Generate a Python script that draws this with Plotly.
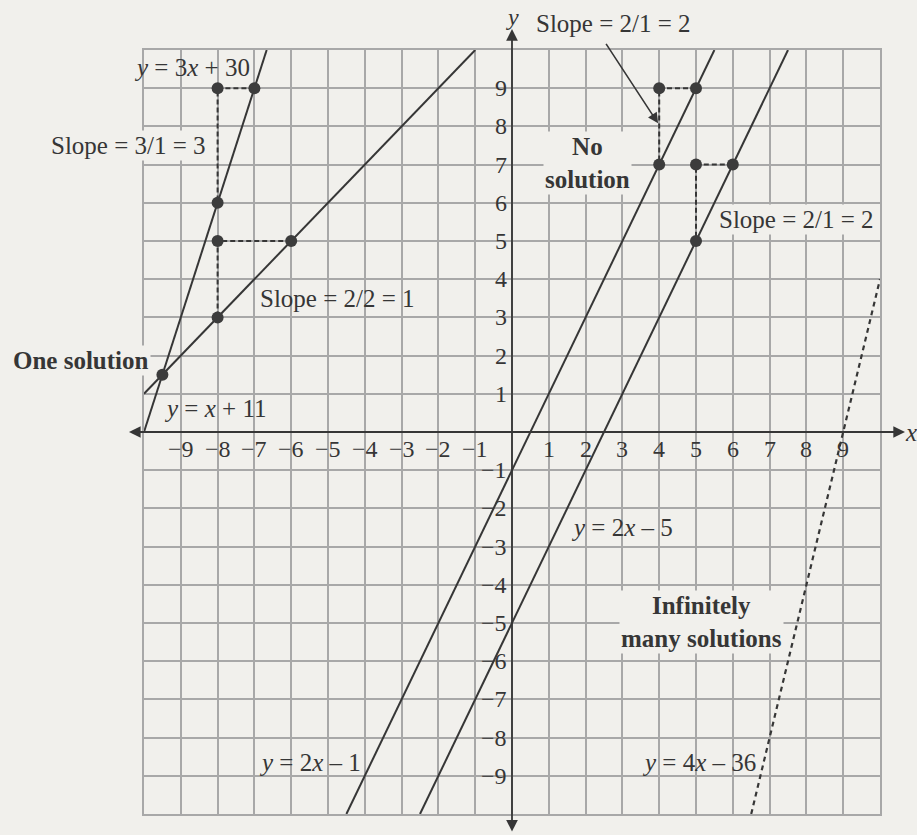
import plotly.graph_objects as go

# equations drawn on the grid: y = slope * x + intercept, from x_start to x_end
line_labels = ["y = 3x + 30", "y = x + 11", "y = 2x - 1", "y = 2x - 5", "y = 4x - 36"]
slopes = [3, 1, 2, 2, 4]
intercepts = [30, 11, -1, -5, -36]
x_start = [-10, -10, -4.5, -2.5, 6.5]
x_end = [-20 / 3, -1, 5.5, 7.5, 10]

# highlighted points
point_x = [-7, -8, -8, -8, -6, -8, -9.5, 4, 5, 4, 5, 6, 5]
point_y = [9, 9, 6, 5, 5, 3, 1.5, 9, 9, 7, 7, 7, 5]

# rise / run guides (run end, corner, rise end)
guide_x = [[-7, -8, -8], [-6, -8, -8], [5, 4, 4], [6, 5, 5]]
guide_y = [[9, 9, 6], [5, 5, 3], [9, 9, 7], [7, 7, 5]]

tick_values = [-9, -8, -7, -6, -5, -4, -3, -2, -1, 1, 2, 3, 4, 5, 6, 7, 8, 9]
tick_labels = ["\u2212%d" % -v if v < 0 else str(v) for v in tick_values]

PAPER = "#f1f0ec"
INK = "#363636"
GRID = "#a8a8a8"
FONT = "Liberation Serif"
LO, HI = -10, 10

W, H = 917, 835
ML, MR, MT, MB = 144, 37, 50, 21
PX_X = (W - ML - MR) / (HI - LO)
PX_Y = (H - MT - MB) / (HI - LO)


def px(v):
    return (v - LO) / (HI - LO)


fig = go.Figure()

for gx, gy in zip(guide_x, guide_y):
    fig.add_trace(go.Scatter(
        x=gx, y=gy, mode="lines",
        line=dict(color=INK, width=2, dash="5px,3px"),
        hoverinfo="skip", showlegend=False,
    ))

for i, name in enumerate(line_labels):
    xs = [x_start[i], x_end[i]]
    ys = [slopes[i] * v + intercepts[i] for v in xs]
    fig.add_trace(go.Scatter(
        x=xs, y=ys, mode="lines", name=name,
        line=dict(color=INK, width=2.2 if i == 4 else 2,
                  dash="5px,4px" if i == 4 else "solid"),
        showlegend=False,
    ))

fig.add_trace(go.Scatter(
    x=point_x, y=point_y, mode="markers",
    marker=dict(color="#3c3c3c", size=12),
    showlegend=False, cliponaxis=False,
))

annotations = []

# axes with arrows at both ends
annotations.append(dict(x=px(10.68), y=px(0), xref="paper", yref="paper",
                        ax=-(10.68 + 10.45) * PX_X, ay=0, axref="pixel", ayref="pixel",
                        text="", showarrow=True, arrowhead=2, arrowside="end+start",
                        arrowsize=1.3, arrowwidth=1.8, arrowcolor=INK))
annotations.append(dict(x=px(0), y=px(10.55), xref="paper", yref="paper",
                        ax=0, ay=(10.55 + 10.5) * PX_Y, axref="pixel", ayref="pixel",
                        text="", showarrow=True, arrowhead=2, arrowside="end+start",
                        arrowsize=1.3, arrowwidth=1.8, arrowcolor=INK))
annotations.append(dict(x=px(0), y=px(10.86), xref="paper", yref="paper",
                        xanchor="center", yanchor="middle",
                        text="<i>y</i>", showarrow=False,
                        font=dict(family=FONT, size=24, color=INK)))
annotations.append(dict(x=px(10.62), y=px(0), xref="paper", yref="paper",
                        xanchor="left", yanchor="middle",
                        text="<i>x</i>", showarrow=False,
                        font=dict(family=FONT, size=25, color=INK)))

for v, lab in zip(tick_values, tick_labels):
    annotations.append(dict(x=v, y=-0.45, text=lab, showarrow=False,
                            xanchor="center", yanchor="middle",
                            font=dict(family=FONT, size=24, color=INK)))
    annotations.append(dict(x=-0.08, y=v, text=lab, showarrow=False,
                            xanchor="right", yanchor="middle",
                            font=dict(family=FONT, size=24, color=INK)))

labels = [
    ("<i>y</i> = 3<i>x</i> + 30", -8.7, 9.55, False),
    ("Slope = 3/1 = 3", -10.43, 7.51, True),
    ("Slope = 2/2 = 1", -4.73, 3.5, False),
    ("<b>One solution</b>", -11.7, 1.88, True),
    ("<i>y</i> = <i>x</i> + 11", -8.05, 0.62, False),
    ("Slope = 2/1 = 2", 2.77, 10.7, False),
    ("<b>No<br>solution</b>", 2.04, 7.04, True),
    ("Slope = 2/1 = 2", 7.74, 5.55, True),
    ("<i>y</i> = 2<i>x</i> \u2013 5", 3.0, -2.5, False),
    ("<b>Infinitely<br>many solutions</b>", 5.15, -4.97, True),
    ("<i>y</i> = 2<i>x</i> \u2013 1", -5.5, -8.65, False),
    ("<i>y</i> = 4<i>x</i> \u2013 36", 5.08, -8.65, False),
]
for text, lx, ly, boxed in labels:
    annotations.append(dict(
        x=px(lx), y=px(ly), xref="paper", yref="paper", text=text, showarrow=False,
        xanchor="center", yanchor="middle",
        bgcolor=PAPER if boxed else "rgba(0,0,0,0)", borderpad=1,
        font=dict(family=FONT, size=25, color=INK),
    ))

# pointer from the top slope label
annotations.append(dict(x=3.97, y=8.08, ax=2.53, ay=10.2, xref="x", yref="y",
                        axref="x", ayref="y", text="", showarrow=True,
                        arrowhead=2, arrowsize=1.3, arrowwidth=1.6,
                        arrowcolor=INK))

axis_style = dict(
    range=[LO, HI], dtick=1, showgrid=True, gridcolor=GRID, gridwidth=1.5,
    zeroline=False, showticklabels=False, ticks="",
    showline=True, mirror=True, linecolor=GRID, linewidth=1.5,
)

fig.update_layout(
    width=W, height=H,
    margin=dict(l=ML, r=MR, t=MT, b=MB, pad=0),
    paper_bgcolor=PAPER, plot_bgcolor=PAPER,
    xaxis=axis_style, yaxis=axis_style,
    annotations=annotations,
    showlegend=False,
)

# drop the page's default body margin so the figure fills the window
page_css = (
    "document.body.style.margin='0';"
    "document.body.style.overflow='hidden';"
    "document.body.style.background='%s';" % PAPER
)
fig.write_html("out.html", post_script=page_css,
               config={"displayModeBar": False})
